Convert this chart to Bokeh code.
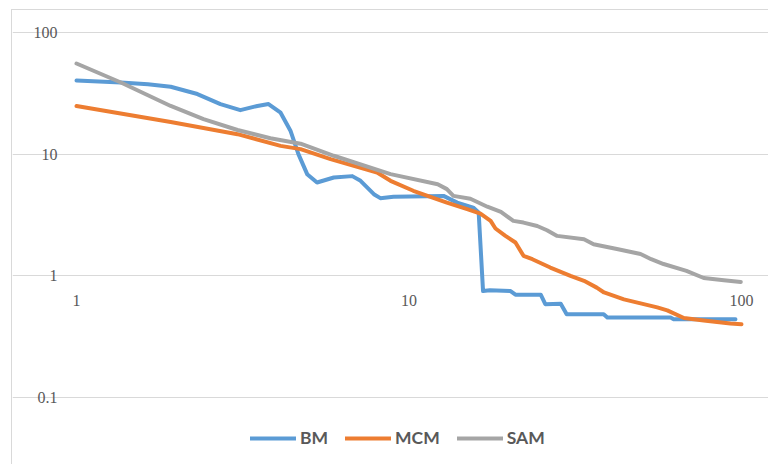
from bokeh.plotting import figure
from bokeh.models import (ColumnDataSource, FixedTicker, Grid, Legend,
                          LegendItem, LabelSet, Range1d)
from bokeh.embed import file_html
from bokeh.resources import INLINE

# ---- data -------------------------------------------------------------
bm_x = [1, 1.36, 1.64, 1.92, 2.31, 2.71, 3.11, 3.5, 3.78, 4.11, 4.4, 4.65,
        4.94, 5.29, 5.94, 6.75, 7.15, 7.84, 8.2, 8.98, 12.7, 13.96, 15.6,
        16.2, 16.7, 17.5, 20.2, 20.9, 24.9, 25.7, 28.6, 29.8, 38.5, 39.5,
        61.2, 62.5, 95.9]
bm_y = [40.3, 38.8, 37.6, 35.8, 31.2, 25.8, 23.0, 24.9, 25.8, 21.9, 15.6,
        10.0, 6.85, 5.85, 6.43, 6.6, 6.04, 4.69, 4.35, 4.46, 4.54, 4.0, 3.64,
        3.32, 0.75, 0.76, 0.75, 0.70, 0.70, 0.585, 0.59, 0.484, 0.484, 0.454,
        0.454, 0.44, 0.44]

mcm_x = [1, 1.92, 3.05, 4.11, 4.72, 5.81, 8.02, 8.8, 10.3, 13.0, 14.96, 16.4,
         17.6, 18.2, 19.5, 20.9, 22.1, 23.5, 26.6, 30.6, 33.6, 36.7, 38.6,
         44.3, 55.8, 59.8, 67.1, 77, 92.6, 100]
mcm_y = [24.9, 18.4, 14.6, 11.7, 11.0, 9.1, 7.07, 6.04, 5.0, 4.0, 3.53, 3.25,
         2.83, 2.45, 2.13, 1.88, 1.46, 1.37, 1.17, 1.0, 0.91, 0.80, 0.73,
         0.64, 0.55, 0.52, 0.45, 0.43, 0.405, 0.40]

sam_x = [1, 1.36, 1.92, 2.41, 3.05, 3.83, 4.72, 5.94, 8.8, 12.2, 13.0, 13.6,
         15.3, 17.2, 18.9, 20.6, 22.1, 24.3, 26.0, 27.9, 33.6, 35.9, 42.2,
         49.7, 53.5, 58.3, 68.3, 77, 88.5, 99.5]
sam_y = [55.6, 38.8, 24.9, 19.4, 15.8, 13.5, 12.2, 9.7, 6.85, 5.66, 5.16,
         4.54, 4.3, 3.7, 3.35, 2.83, 2.74, 2.57, 2.37, 2.13, 2.0, 1.82, 1.66,
         1.51, 1.37, 1.25, 1.10, 0.96, 0.92, 0.89]

series_names = ["BM", "MCM", "SAM"]
series_colors = ["#5B9BD5", "#ED7D31", "#A5A5A5"]

y_ticks = [0.1, 1, 10, 100]
y_tick_labels = ["0.1", "1", "10", "100"]
x_ticks = [1, 10, 100]
x_tick_labels = ["1", "10", "100"]

FONT = "Lato"
TEXT_COLOR = "#595959"
GRID_COLOR = "#d9d9d9"

# ---- geometry ---------------------------------------------------------
# canvas is W x H; the plotting area for 1..100 / 0.1..100 sits inside it
W, H = 757, 455
LEFT, RIGHT, TOP, BOTTOM = 64, 729, 22, 387          # plot area in canvas px
x_dec = (RIGHT - LEFT) / 2.0                          # px per decade, x
y_dec = (BOTTOM - TOP) / 3.0                          # px per decade, y
x_lo = 10 ** (-LEFT / x_dec)
x_hi = 10 ** (2 + (W - RIGHT) / x_dec)
y_lo = 10 ** (-1 - (H - BOTTOM) / y_dec)
y_hi = 10 ** (2 + TOP / y_dec)

p = figure(width=W, height=H,
           x_axis_type="log", y_axis_type="log",
           x_range=Range1d(x_lo, x_hi), y_range=Range1d(y_lo, y_hi),
           x_axis_location=None, y_axis_location=None,
           output_backend="svg", toolbar_location=None,
           min_border=0)
p.styles = {"margin-left": "11px", "margin-top": "9px",
            "border-left": f"1px solid {GRID_COLOR}",
            "border-top": f"1px solid {GRID_COLOR}"}
p.outline_line_color = None
p.background_fill_color = "white"
p.border_fill_color = "white"

# drop the default grids; only horizontal lines at the decades, x = 1 .. 100
for g in p.grid:
    g.visible = False
p.add_layout(Grid(dimension=1, ticker=FixedTicker(ticks=y_ticks),
                  bounds=(x_ticks[0], x_ticks[-1]),
                  grid_line_color=GRID_COLOR, grid_line_width=1))

# y tick labels left of the plot area
yl_src = ColumnDataSource(dict(x=[x_ticks[0]] * len(y_ticks), y=y_ticks,
                               text=y_tick_labels))
p.add_layout(LabelSet(x="x", y="y", text="text", source=yl_src,
                      x_offset=-19, text_align="right", text_baseline="middle",
                      text_font=FONT, text_font_size="16px",
                      text_color=TEXT_COLOR))

# x tick labels sit just under the y = 1 line
xl_src = ColumnDataSource(dict(x=x_ticks, y=[1] * len(x_ticks),
                               text=x_tick_labels))
p.add_layout(LabelSet(x="x", y="y", text="text", source=xl_src,
                      y_offset=-25, text_align="center", text_baseline="middle",
                      text_font=FONT, text_font_size="16px",
                      text_color=TEXT_COLOR))

# ---- series -----------------------------------------------------------
renderers = []
for xs, ys, c in zip([bm_x, mcm_x, sam_x], [bm_y, mcm_y, sam_y], series_colors):
    r = p.line(xs, ys, line_color=c, line_width=4,
               line_join="round", line_cap="round")
    renderers.append(r)

legend = Legend(items=[LegendItem(label=n, renderers=[r])
                       for n, r in zip(series_names, renderers)],
                orientation="horizontal", location=(238, 17),
                padding=0, margin=0, spacing=17,
                glyph_width=46, glyph_height=20, label_standoff=4,
                label_text_font=FONT, label_text_font_style="bold",
                label_text_font_size="17.5px", label_text_color=TEXT_COLOR,
                border_line_color=None, background_fill_alpha=0)
p.add_layout(legend)

open("out.html", "w").write(file_html(p, INLINE))
